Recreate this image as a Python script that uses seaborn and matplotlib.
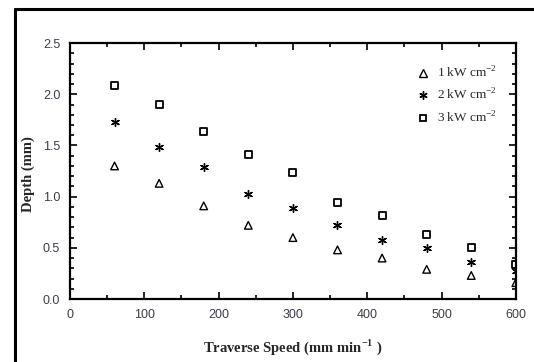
import matplotlib
matplotlib.use("Agg")
import matplotlib.pyplot as plt
from matplotlib.lines import Line2D
from matplotlib.ticker import MultipleLocator, FormatStrFormatter
import pandas as pd
import seaborn as sns

# Traverse speeds (mm/min) and melt depths (mm) for three power densities
speed = [60, 120, 180, 240, 300, 360, 420, 480, 540, 600]
depth_1kw = [1.30, 1.13, 0.91, 0.72, 0.60, 0.48, 0.40, 0.29, 0.23, 0.16]
depth_2kw = [1.73, 1.48, 1.29, 1.03, 0.89, 0.72, 0.58, 0.50, 0.36, 0.27]
depth_3kw = [2.09, 1.90, 1.64, 1.41, 1.24, 0.94, 0.82, 0.63, 0.50, 0.34]
series = [r"1 kW cm$^{-2}$", r"2 kW cm$^{-2}$", r"3 kW cm$^{-2}$"]

df = pd.DataFrame({
    "speed": speed * 3,
    "depth": depth_1kw + depth_2kw + depth_3kw,
    "series": [series[0]] * len(speed) + [series[1]] * len(speed) + [series[2]] * len(speed),
})

sns.set_theme(style="white")
plt.rcParams["font.family"] = ["Liberation Sans", "DejaVu Sans"]
plt.rcParams["mathtext.fontset"] = "custom"
plt.rcParams["mathtext.rm"] = "Liberation Serif"
plt.rcParams["mathtext.bf"] = "Liberation Serif:bold"

fig = plt.figure(figsize=(5.34, 3.62), dpi=100)
ax = fig.add_axes([0.131, 0.174, 0.835, 0.707])

markers = {series[0]: "^", series[1]: (6, 2, 0), series[2]: "s"}
sizes = {series[0]: 30, series[1]: 32, series[2]: 26}
for name in series:
    sub = df[df["series"] == name]
    face = "none" if name != series[1] else "black"
    sns.scatterplot(data=sub, x="speed", y="depth", marker=markers[name],
                    s=sizes[name], facecolor=face, edgecolor="black",
                    linewidth=1.3 if name == series[2] else 1.0,
                    color="black", ax=ax, legend=False)

ax.set_xlim(0, 600)
ax.set_ylim(0, 2.5)
ax.xaxis.set_major_locator(MultipleLocator(100))
ax.xaxis.set_minor_locator(MultipleLocator(50))
ax.yaxis.set_major_locator(MultipleLocator(0.5))
ax.yaxis.set_minor_locator(MultipleLocator(0.1))
ax.yaxis.set_major_formatter(FormatStrFormatter("%.1f"))
ax.tick_params(which="both", direction="in", top=True, right=True,
               bottom=True, left=True, color="black", width=1.2)
ax.tick_params(which="major", length=5, labelsize=9, labelcolor="#3d3d4a", pad=7)
ax.tick_params(which="minor", length=3)
for sp in ax.spines.values():
    sp.set_visible(True)
    sp.set_color("black")
    sp.set_linewidth(1.6)

ax.set_xlabel(r"Traverse Speed (mm min$^{\mathbf{-1}}$ )", family="Liberation Serif",
              fontweight="bold", fontsize=10.5)
ax.set_ylabel("Depth (mm)", family="Liberation Serif", fontweight="bold",
              fontsize=10.5)
ax.xaxis.set_label_coords(0.5, -0.15)
ax.yaxis.set_label_coords(-0.078, 0.49)

handles = [
    Line2D([], [], linestyle="none", marker="^", markersize=5.5,
           markerfacecolor="none", markeredgecolor="black", markeredgewidth=1.0),
    Line2D([], [], linestyle="none", marker=(6, 2, 0), markersize=6,
           markeredgecolor="black", markeredgewidth=1.0),
    Line2D([], [], linestyle="none", marker="s", markersize=5,
           markerfacecolor="none", markeredgecolor="black", markeredgewidth=1.3),
]
ax.legend(handles, series, loc="upper right", bbox_to_anchor=(0.985, 0.96),
          frameon=False, prop={"family": "Liberation Serif", "size": 9.5},
          handlelength=1.0, handletextpad=0.6, labelspacing=0.55)

# Outer frame: left and top edges
fig.add_artist(Line2D([15 / 534, 15 / 534], [0, 1 - 9 / 362], transform=fig.transFigure,
                      color="black", linewidth=2.2))
fig.add_artist(Line2D([15 / 534, 1], [1 - 9 / 362, 1 - 9 / 362], transform=fig.transFigure,
                      color="black", linewidth=2.2))

fig.savefig("out.png", dpi=100)
